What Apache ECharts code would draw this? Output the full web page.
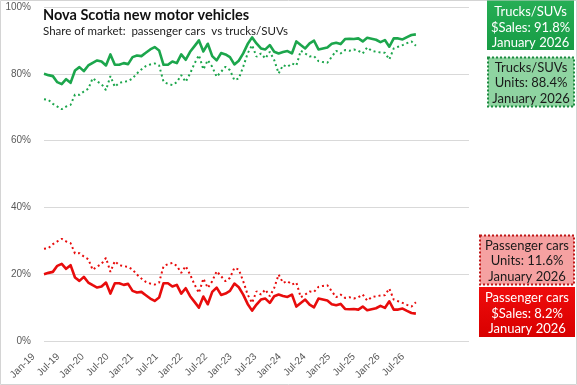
<!DOCTYPE html>
<html><head><meta charset="utf-8">
<script src="https://cdn.jsdelivr.net/npm/echarts@6/dist/echarts.min.js"></script>
<style>html,body{margin:0;padding:0;background:#fff}#c{width:577px;height:385px}</style>
</head><body><div id="c"></div>
<script>
// Monthly, Jan-2019 .. Jan-2026 (index 0 = Jan-19)
const tickLabels = ['Jan-19','Jul-19','Jan-20','Jul-20','Jan-21','Jul-21','Jan-22','Jul-22','Jan-23','Jul-23','Jan-24','Jul-24','Jan-25','Jul-25','Jan-26','Jul-26'];
const yTicks = [0,20,40,60,80,100];

const trucksSales = [80.0,79.6,79.3,77.5,76.9,78.4,77.3,81.0,82.0,80.8,
82.5,83.3,84.0,83.7,82.5,85.8,82.7,82.7,83.2,82.9,
85.0,85.5,85.3,86.3,87.3,88.0,87.0,82.7,82.7,83.7,
83.2,85.8,84.2,86.6,88.3,90.0,86.7,89.0,85.3,84.0,
86.2,85.8,85.0,82.8,83.9,86.1,88.9,90.9,89.1,87.6,
87.3,88.6,86.6,86.1,86.5,86.8,86.1,89.7,88.6,87.6,
89.1,89.9,87.3,87.6,87.9,89.0,89.3,88.9,90.4,90.5,
90.4,90.6,89.7,90.8,90.5,90.2,89.5,90.1,88.1,90.6,
90.6,90.3,91.0,91.6,91.8];

const trucksUnits = [72.4,72.2,71.0,70.2,69.4,70.2,70.7,73.8,73.7,74.7,
75.5,78.7,77.7,76.9,75.1,79.3,76.1,77.3,77.6,77.8,
78.6,80.1,81.3,82.3,82.8,83.1,82.5,77.6,77.0,76.6,
77.5,79.6,77.6,80.1,83.1,85.6,81.3,84.1,82.1,79.1,
80.6,82.1,81.1,78.1,78.6,82.1,86.1,88.6,85.1,86.1,
84.6,86.6,84.1,80.1,82.6,82.1,83.1,82.5,86.9,86.1,
85.2,85.3,83.8,83.5,83.3,85.1,86.9,86.1,87.1,86.9,
87.3,86.9,86.1,87.9,86.9,86.6,86.4,86.3,84.3,87.6,
88.1,88.6,89.2,89.7,88.4];

const carsSales = [20.0,20.4,20.7,22.5,23.1,21.6,22.7,19.0,18.0,19.2,
17.5,16.7,16.0,16.3,17.5,14.2,17.3,17.3,16.8,17.1,
15.0,14.5,14.7,13.7,12.7,12.0,13.0,17.3,17.3,16.3,
16.8,14.2,15.8,13.4,11.7,10.0,13.3,11.0,14.7,16.0,
13.8,14.2,15.0,17.2,16.1,13.9,11.1,9.1,10.9,12.4,
12.7,11.4,13.4,13.9,13.5,13.2,13.9,10.3,11.4,12.4,
10.9,10.1,12.7,12.4,12.1,11.0,10.7,11.1,9.6,9.5,
9.6,9.4,10.3,9.2,9.5,9.8,10.5,9.9,11.9,9.4,
9.4,9.7,9.0,8.4,8.2];

const carsUnits = [27.6,27.8,29.0,29.8,30.6,29.8,29.3,26.2,26.3,25.3,
24.5,21.3,22.3,23.1,24.9,20.7,23.9,22.7,22.4,22.2,
21.4,19.9,18.7,17.7,17.2,16.9,17.5,22.4,23.0,23.4,
22.5,20.4,22.4,19.9,16.9,14.4,18.7,15.9,17.9,20.9,
19.4,17.9,18.9,21.9,21.4,17.9,13.9,11.4,14.9,13.9,
15.4,13.4,15.9,19.9,17.4,17.9,16.9,17.5,13.1,13.9,
14.8,14.7,16.2,16.5,16.7,14.9,13.1,13.9,12.9,13.1,
12.7,13.1,13.9,12.1,13.1,13.4,13.6,13.7,15.7,12.4,
11.9,11.4,10.8,10.3,11.6];

const GREEN = '#1ca64c', RED = '#e80c0c';
const toXY = arr => arr.map((v, i) => [i, v]);

const chart = echarts.init(document.getElementById('c'), null, {renderer: 'canvas'});
const lbl = {fontFamily: 'Liberation Sans, Arial, sans-serif', fontSize: 10, color: '#595959'};

chart.setOption({
  animation: false,
  backgroundColor: '#fff',
  grid: [
    {left: 44, right: 108, top: 7, bottom: 44},
    {left: 33.5, width: 369.5, top: 7, bottom: 44}
  ],
  xAxis: [
    {type: 'value', gridIndex: 0, min: 0, max: 96,
     axisLine: {show: false}, axisTick: {show: false}, axisLabel: {show: false}, splitLine: {show: false}},
    {type: 'value', gridIndex: 1, min: 0, max: 90, interval: 6,
     axisLine: {show: false}, axisTick: {show: false}, splitLine: {show: false},
     axisLabel: Object.assign({rotate: 45, margin: 14, showMinLabel: true, showMaxLabel: true,
       formatter: v => tickLabels[Math.round(v / 6)] || ''}, lbl)}
  ],
  yAxis: [
    {type: 'value', gridIndex: 0, min: 0, max: 100, interval: 20,
     axisLine: {show: false}, axisTick: {show: false},
     splitLine: {lineStyle: {color: '#d9d9d9', width: 1}},
     axisLabel: Object.assign({margin: 13, formatter: v => yTicks.includes(v) ? v + '%' : ''}, lbl)},
    {type: 'value', gridIndex: 1, min: 0, max: 100, show: false}
  ],
  series: [
    {type: 'line', name: 'Trucks/SUVs units', xAxisIndex: 0, yAxisIndex: 0, data: toXY(trucksUnits), symbol: 'none',
     lineStyle: {color: GREEN, width: 2, type: [2, 3], cap: 'butt'}},
    {type: 'line', name: 'Passenger cars units', xAxisIndex: 0, yAxisIndex: 0, data: toXY(carsUnits), symbol: 'none',
     lineStyle: {color: RED, width: 2, type: [2, 3], cap: 'butt'}},
    {type: 'line', name: 'Trucks/SUVs $sales', xAxisIndex: 0, yAxisIndex: 0, data: toXY(trucksSales), symbol: 'none',
     lineStyle: {color: GREEN, width: 2.6, join: 'round'}},
    {type: 'line', name: 'Passenger cars $sales', xAxisIndex: 0, yAxisIndex: 0, data: toXY(carsSales), symbol: 'none',
     lineStyle: {color: RED, width: 2.6, join: 'round'}}
  ],
  graphic: [
    {type: 'rect', shape: {x: 0.5, y: 0.5, width: 576, height: 384}, style: {fill: 'none', stroke: '#d4d4d4', lineWidth: 1}, z: 0},
    {type: 'text', x: 43, y: 8, style: {text: 'Nova Scotia new motor vehicles', font: 'bold 14.5px Lato, sans-serif', fill: '#111', verticalAlign: 'top'}},
    {type: 'text', x: 43, y: 25, style: {text: 'Share of market:  passenger cars  vs trucks/SUVs', font: '11.5px Lato, sans-serif', fill: '#222', verticalAlign: 'top'}},
    {type: 'rect', shape: {x: 487, y: 0.5, width: 87, height: 49.5},
     style: {fill: new echarts.graphic.LinearGradient(0, 0, 0, 1, [{offset: 0, color: '#26ae55'}, {offset: 1, color: '#179c45'}])}},
    {type: 'text', x: 530.5, y: 27.5, style: {text: 'Trucks/SUVs\n$Sales: 91.8%\nJanuary 2026', font: '13px Lato, sans-serif', fill: '#fff', align: 'center', verticalAlign: 'middle', lineHeight: 15.5}},
    {type: 'rect', shape: {x: 488, y: 57.5, width: 86, height: 49},
     style: {fill: '#8fd4a1', stroke: '#1d8c40', lineWidth: 2, lineDash: [2, 2]}},
    {type: 'text', x: 531, y: 83, style: {text: 'Trucks/SUVs\nUnits: 88.4%\nJanuary 2026', font: '13px Lato, sans-serif', fill: '#1a1a1a', align: 'center', verticalAlign: 'middle', lineHeight: 15.5}},
    {type: 'rect', shape: {x: 480, y: 235.5, width: 94, height: 49},
     style: {fill: '#f5a1a1', stroke: '#c01818', lineWidth: 2, lineDash: [2, 2]}},
    {type: 'text', x: 527, y: 261, style: {text: 'Passenger cars\nUnits: 11.6%\nJanuary 2026', font: '13px Lato, sans-serif', fill: '#1a1a1a', align: 'center', verticalAlign: 'middle', lineHeight: 15.5}},
    {type: 'rect', shape: {x: 479, y: 287, width: 96, height: 50},
     style: {fill: new echarts.graphic.LinearGradient(0, 0, 0, 1, [{offset: 0, color: '#f00c0c'}, {offset: 1, color: '#d80000'}])}},
    {type: 'text', x: 527, y: 313.5, style: {text: 'Passenger cars\n$Sales: 8.2%\nJanuary 2026', font: '13px Lato, sans-serif', fill: '#fff', align: 'center', verticalAlign: 'middle', lineHeight: 15.5}}
  ]
});
</script></body></html>
